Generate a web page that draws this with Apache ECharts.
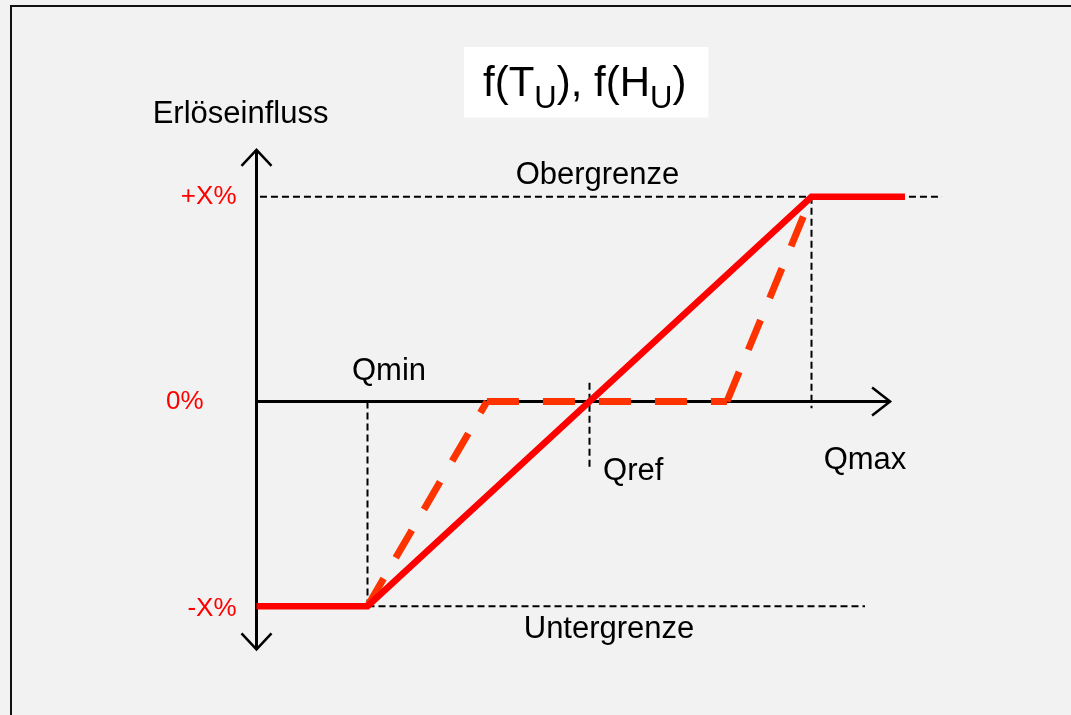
<!DOCTYPE html>
<html>
<head>
<meta charset="utf-8">
<script src="https://cdn.jsdelivr.net/npm/echarts@6/dist/echarts.min.js"></script>
<style>
  html, body { margin: 0; padding: 0; background: #f2f2f2; }
  #chart { width: 1071px; height: 715px; }
</style>
</head>
<body>
<div id="chart"></div>
<script>
// ---- Data (x: position along Q axis, y axis origin at x = 0; y: -1 = -X%, 0 = 0%, +1 = +X%) ----
const yTickValues = [-1, 0, 1];
const yTickLabels = ['-X%', '0%', '+X%'];

const solidLine  = [[0, -1], [0.5, -1], [2.5, 1], [2.921, 1]];
// dashed curve, split into its three legs
const dashedRampLow  = [[0.5, -1], [1.038, 0]];
const dashedFlat     = [[1.038, 0], [2.119, 0]];
const dashedRampHigh = [[2.119, 0], [2.5, 1]];

const axisYLine = [[0, -1.211], [0, 1.229]];
const axisXLine = [[0, 0], [2.854, 0]];
// arrow tips: [x, y, direction] 0 = up, 1 = down, 2 = right
const arrowTips = [[0, 1.229, 0], [0, -1.211, 1], [2.854, 0, 2]];

const guideTop    = [[-0.034, 1], [3.088, 1]];
const guideBottom = [[0.5, -1], [2.741, -1]];
const guideQmin   = [[0.5, 0], [0.5, -1]];
const guideQref   = [[1.5, 0.092], [1.5, -0.326]];
const guideQmax   = [[2.5, 1], [2.5, -0.033]];

const annotationTexts  = ['Erlöseinfluss', 'Obergrenze', 'Qmin', 'Untergrenze', 'Qref', 'Qmax'];
const annotationPoints = [[-0.072, 1.400], [1.536, 1.102], [0.597, 0.149], [1.588, -1.116], [1.561, -0.344], [2.741, -0.286]];
const annotationAlign  = ['center', 'center', 'center', 'center', 'left', 'center'];

const FONT = '"Liberation Sans", Arial, Helvetica, sans-serif';

const chart = echarts.init(document.getElementById('chart'), null, { renderer: 'canvas' });

function guideSeries(data) {
  return {
    type: 'line', data: data, symbol: 'none', silent: true, clip: false, z: 1,
    lineStyle: { color: '#000', width: 2, type: [7, 4] }
  };
}
function dashedSeries(data) {
  return {
    type: 'line', data: data, symbol: 'none', silent: true, clip: false, z: 3,
    lineStyle: { color: '#ff3300', width: 7, type: [32, 24], dashOffset: 0 }
  };
}

const option = {
  animation: false,
  backgroundColor: '#f2f2f2',
  title: {
    text: '{a|f(T}{b|U}{a|), f(H}{b|U}{a|)}',
    left: 464, top: 47,
    padding: [16, 22, 3, 19],
    backgroundColor: '#ffffff',
    textStyle: {
      fontFamily: FONT, color: '#000', fontWeight: 'normal',
      rich: {
        a: { fontFamily: FONT, fontSize: 42, lineHeight: 50, verticalAlign: 'top', color: '#000' },
        b: { fontFamily: FONT, fontSize: 31, lineHeight: 18, verticalAlign: 'top', padding: [20.5, 0, 0, 0], color: '#000' }
      }
    }
  },
  graphic: [{
    type: 'rect', silent: true, z: 0,
    shape: { x: 11, y: 6, width: 1300, height: 900 },
    style: { fill: 'none', stroke: '#111', lineWidth: 2 }
  }],
  grid: { left: 256.5, right: 37.5, top: 94.45, bottom: 6.45, containLabel: false },
  xAxis: { type: 'value', min: 0, max: 3.5, show: false },
  yAxis: {
    type: 'value', min: -1.5, max: 1.5, interval: 0.5,
    axisLine: { show: false }, axisTick: { show: false }, splitLine: { show: false },
    axisLabel: {
      show: true, margin: 20, color: '#ff0000', fontFamily: FONT, fontSize: 26,
      formatter: function (v) {
        const val = Math.round(v * 1000) / 1000;
        const i = yTickValues.indexOf(val);
        if (i < 0) return '';
        if (val === 0) return '{z|' + yTickLabels[i] + '}';
        if (val < 0) return '{n|' + yTickLabels[i] + '}';
        return yTickLabels[i];
      },
      rich: {
        z: { color: '#ff0000', fontFamily: FONT, fontSize: 26, padding: [0, 33, 0, 0] },
        n: { color: '#ff0000', fontFamily: FONT, fontSize: 26, padding: [5, 0, 0, 0] }
      }
    }
  },
  series: [
    guideSeries(guideTop),
    guideSeries(guideBottom),
    guideSeries(guideQmin),
    guideSeries(guideQref),
    guideSeries(guideQmax),
    {
      type: 'line', data: axisYLine, symbol: 'none', silent: true, clip: false, z: 2,
      lineStyle: { color: '#000', width: 3 }
    },
    {
      type: 'line', data: axisXLine, symbol: 'none', silent: true, clip: false, z: 2,
      lineStyle: { color: '#000', width: 3 }
    },
    {
      type: 'custom', data: arrowTips, silent: true, z: 2,
      renderItem: function (params, api) {
        const p = api.coord([api.value(0), api.value(1)]);
        const d = api.value(2);
        let pts;
        if (d === 0) pts = [[p[0] - 15, p[1] + 16], p, [p[0] + 15, p[1] + 16]];
        else if (d === 1) pts = [[p[0] - 15, p[1] - 16], p, [p[0] + 15, p[1] - 16]];
        else pts = [[p[0] - 18, p[1] - 14], p, [p[0] - 18, p[1] + 14]];
        return {
          type: 'polyline',
          shape: { points: pts },
          style: { stroke: '#000', lineWidth: 2.5, fill: null }
        };
      }
    },
    dashedSeries(dashedRampLow),
    dashedSeries(dashedFlat),
    dashedSeries(dashedRampHigh),
    {
      type: 'line', data: solidLine, symbol: 'none', silent: true, clip: false, z: 4,
      lineStyle: { color: '#ff0000', width: 6.5, join: 'miter' }
    },
    {
      type: 'custom', silent: true, z: 5,
      data: annotationPoints.map(function (p, i) { return [p[0], p[1], i]; }),
      renderItem: function (params, api) {
        const i = api.value(2);
        const p = api.coord([api.value(0), api.value(1)]);
        return {
          type: 'text', x: p[0], y: p[1],
          style: {
            text: annotationTexts[i], fill: '#000',
            fontFamily: FONT, fontSize: 31,
            align: annotationAlign[i], verticalAlign: 'middle'
          }
        };
      }
    }
  ]
};

chart.setOption(option);
</script>
</body>
</html>
